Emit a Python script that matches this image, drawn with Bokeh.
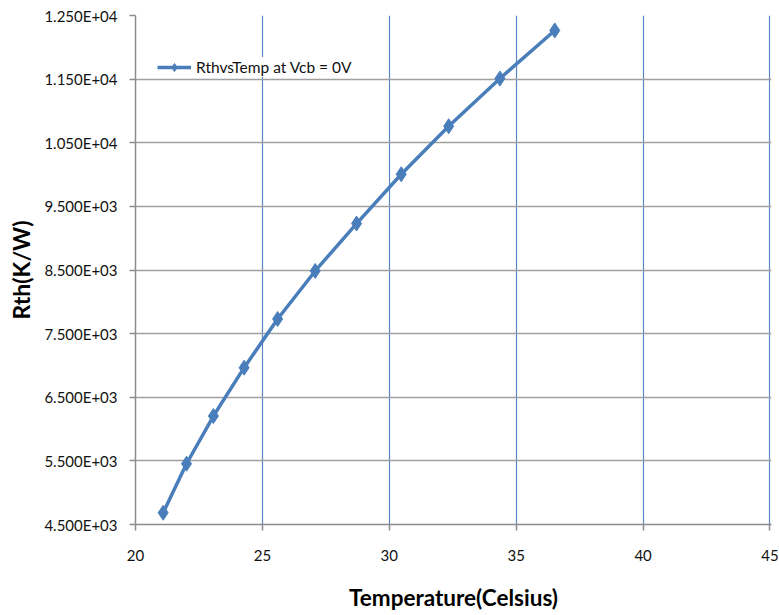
from bokeh.plotting import figure
from bokeh.models import FixedTicker, Range1d, Legend, LegendItem
from bokeh.embed import file_html
from bokeh.resources import INLINE

temperature = [21.09, 22.01, 23.07, 24.28, 25.60, 27.08, 28.71, 30.47, 32.34, 34.36, 36.52]
rth = [4685, 5455, 6205, 6965, 7730, 8485, 9230, 10005, 10760, 11510, 12265]

x_ticks = [20, 25, 30, 35, 40, 45]
y_ticks = [4500, 5500, 6500, 7500, 8500, 9500, 10500, 11500, 12500]
y_tick_labels = ["4.500E+03", "5.500E+03", "6.500E+03", "7.500E+03", "8.500E+03",
                 "9.500E+03", "1.050E+04", "1.150E+04", "1.250E+04"]
series_name = "RthvsTemp at Vcb = 0V"

FONT = "Lato"
BLUE = "#4a7ebb"
GRIDBLUE = "#5b87c5"

p = figure(width=779, height=615, output_backend="svg", toolbar_location=None,
           x_range=Range1d(20, 45.06), y_range=Range1d(4500, 12500),
           min_border_left=135, min_border_right=8, min_border_top=15, min_border_bottom=91)
p.outline_line_color = None
p.background_fill_color = "white"
p.border_fill_color = "white"

line = p.line(temperature, rth, line_color=BLUE, line_width=3.5)
pts = p.scatter(temperature, rth, marker="diamond", size=15, fill_color=BLUE, line_color=BLUE)

p.xaxis.ticker = FixedTicker(ticks=x_ticks)
p.yaxis.ticker = FixedTicker(ticks=y_ticks)
p.yaxis.major_label_overrides = {t: l for t, l in zip(y_ticks, y_tick_labels)}

for ax in (p.xaxis[0], p.yaxis[0]):
    ax.axis_line_color = "#8c8c8c"
    ax.axis_line_width = 1.5
    ax.major_tick_line_color = "#8c8c8c"
    ax.major_tick_line_width = 1.5
    ax.major_tick_in = 0
    ax.major_tick_out = 6
    ax.minor_tick_line_color = None
    ax.major_label_text_font = FONT
    ax.major_label_text_font_size = "15px"
    ax.major_label_text_color = "#111111"
    ax.axis_label_text_font = FONT
    ax.axis_label_text_font_style = "bold"
    ax.axis_label_text_color = "#000000"

p.xaxis.axis_label = "Temperature(Celsius)"
p.yaxis.axis_label = "Rth(K/W)"
p.xaxis.axis_label_text_font_size = "22.5px"
p.yaxis.axis_label_text_font_size = "23px"
p.xaxis.major_label_standoff = 19
p.yaxis.major_label_standoff = 12
p.xaxis.axis_label_standoff = 20
p.yaxis.axis_label_standoff = 6

p.xgrid.grid_line_color = GRIDBLUE
p.xgrid.grid_line_width = 1.2
p.ygrid.grid_line_color = "#a0a0a0"
p.ygrid.grid_line_width = 1.5

legend = Legend(items=[LegendItem(label=series_name, renderers=[line, pts])],
                location=(22, 447), border_line_color=None,
                background_fill_color="white", background_fill_alpha=1.0,
                glyph_width=34, glyph_height=20, padding=6, label_standoff=5,
                label_text_font=FONT, label_text_font_size="15.5px", label_text_color="#111111")
p.add_layout(legend)

open("out.html", "w").write(file_html(p, INLINE))
